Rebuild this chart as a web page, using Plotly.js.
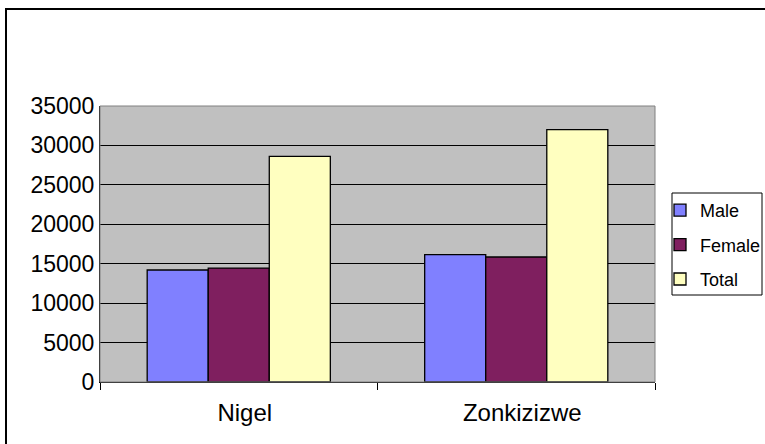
<!DOCTYPE html>
<html>
<head>
<meta charset="utf-8">
<script src="https://cdn.plot.ly/plotly-3.0.1.min.js"></script>
<style>
html,body{margin:0;padding:0;background:#fff;}
#chart{width:765px;height:444px;}
</style>
</head>
<body>
<div id="chart"></div>
<script>
const categories = ["Nigel", "Zonkizizwe"];
const seriesNames = ["Male", "Female", "Total"];
const maleValues = [14200, 16150];
const femaleValues = [14450, 15850];
const totalValues = [28600, 32000];
const yTickValues = [0, 5000, 10000, 15000, 20000, 25000, 30000, 35000];

const colors = ["#8080FF", "#7F1F5F", "#FFFFC0"];
const allValues = [maleValues, femaleValues, totalValues];

const traces = seriesNames.map((name, i) => ({
  type: "bar",
  name: name,
  x: categories,
  y: allValues[i],
  legendgroup: name,
  marker: {color: colors[i], line: {color: "#000", width: 1.3}},
  hoverinfo: "none"
}));

const fam = "Liberation Sans, Arial, sans-serif";
const PW = 555, PH = 276; // plot area size in px

const layout = {
  width: 765, height: 444,
  margin: {l: 100, r: 110, t: 106, b: 62, autoexpand: false},
  paper_bgcolor: "#fff",
  plot_bgcolor: "#C0C0C0",
  barmode: "group",
  bargap: 0.34,
  bargroupgap: 0,
  font: {family: fam, color: "#000"},
  showlegend: true,
  legend: {
    x: (672 - 100) / PW, y: (382 - 192) / PH, xanchor: "left", yanchor: "top",
    borderwidth: 0, bgcolor: "rgba(0,0,0,0)",
    font: {family: fam, size: 18, color: "#000"},
    tracegroupgap: 8,
    itemwidth: 30,
    indentation: -12
  },
  xaxis: {
    type: "category",
    tickson: "boundaries",
    ticks: "outside", ticklen: 7, tickcolor: "#000",
    showgrid: false,
    showline: true, linecolor: "#000", linewidth: 1,
    tickfont: {family: fam, size: 24, color: "#000"},
    ticklabelstandoff: 9,
    ticklabelshift: 6,
    fixedrange: true
  },
  yaxis: {
    range: [0, 35000],
    tickvals: yTickValues,
    ticktext: yTickValues.map(String),
    ticks: "inside", ticklen: 5, tickcolor: "#000",
    showgrid: true, gridcolor: "#000", gridwidth: 1,
    showline: true, linecolor: "#000", linewidth: 1,
    zeroline: false,
    tickfont: {family: fam, size: 23, color: "#000"},
    ticklabelstandoff: 0,
    fixedrange: true
  },
  shapes: [
    {type: "rect", xref: "paper", yref: "paper", x0: 0, x1: 1, y0: 0, y1: 1,
     line: {color: "#808080", width: 1}},
    {type: "rect", xref: "paper", yref: "paper",
     x0: (672 - 100) / PW, x1: (762 - 100) / PW,
     y0: (382 - 295) / PH, y1: (382 - 193) / PH,
     line: {color: "#000", width: 1}, fillcolor: "rgba(0,0,0,0)"},
    {type: "rect", xref: "paper", yref: "paper",
     x0: -94 / PW, x1: 1.3, y0: -0.3, y1: (382 - 9) / PH,
     line: {color: "#000", width: 2}}
  ]
};

Plotly.newPlot("chart", traces, layout, {displayModeBar: false, staticPlot: true});
</script>
</body>
</html>
